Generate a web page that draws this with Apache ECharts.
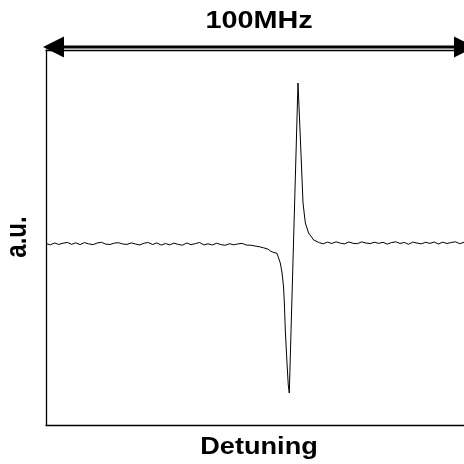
<!DOCTYPE html>
<html>
<head>
<meta charset="utf-8">
<script src="https://cdn.jsdelivr.net/npm/echarts@6/dist/echarts.min.js"></script>
<style>
  html, body { margin: 0; padding: 0; background: #fff; }
  #chart { width: 464px; height: 464px; }
</style>
</head>
<body>
<div id="chart"></div>
<script>
// detuning in MHz, signal in arbitrary units
const detuning = [
  -50, -49, -48, -47, -46, -45, -44, -43, -42, -41,
  -40, -39, -38, -37, -36, -35, -34, -33, -32, -31,
  -30, -29, -28, -27, -26, -25, -24, -23, -22, -21,
  -20, -19, -18, -17, -16, -15, -14, -13, -12, -11,
  -10, -9, -8, -7, -6, -5, -4, -3, -2, -1,
  0, 1, 2,
  2.6, 3.4, 4.15, 4.93, 5.35, 5.7, 5.92, 6.1, 6.5, 6.8, 7.04, 9.08,
  9.62, 10.26, 10.8, 11.57, 12.75, 14.08,
  15, 16, 17, 18, 19, 20, 21, 22, 23, 24,
  25, 26, 27, 28, 29, 30, 31, 32, 33, 34,
  35, 36, 37, 38, 39, 40, 41, 42, 43, 44,
  45, 46, 47, 48, 49, 50
]
const signal = [
  181.4, 180.2, 182.0, 180.6, 181.8, 182.6, 180.7, 182.2, 180.4, 182.4,
  181.2, 180.3, 182.0, 182.7, 180.9, 180.5, 181.9, 182.3, 181.0, 180.6,
  182.1, 181.0, 180.1, 181.8, 182.5,
  180.5, 182.1, 179.9, 181.5, 180.2, 181.9, 180.6, 179.8, 182.0, 180.3,
  181.4, 182.5, 180.1, 181.2, 180.0, 181.8, 180.4, 179.7, 181.3, 180.2,
  181.1, 181.6, 179.9,
  179.8, 179.0, 178.3, 177.2, 176.0,
  174, 172.5, 171.7, 162, 152, 138, 118, 95, 62, 40, 32, 342,
  288, 222, 202, 192, 185, 182.3,
  181.2, 182.9, 181.5, 183.2, 181.8, 181.1, 183.0, 181.7, 181.3, 183.1,
  182.0, 181.4, 182.8, 181.6, 182.7, 180.9, 182.4, 183.2, 181.5, 182.6,
  180.7, 182.9, 181.9, 181.2, 182.7, 181.6, 183.0, 181.0, 182.8, 181.5,
  182.5, 183.2, 181.3, 182.7, 181.6, 182.9
]
const spanLabel = '100MHz'
const xLabel = 'Detuning'
const yLabel = 'a.u.'

const points = detuning.map((d, i) => [d, signal[i]])
const labelFont = 'bold 24px "Liberation Sans", Arial, sans-serif'
const frame = { show: true, onZero: false, lineStyle: { color: '#000', width: 1.3 } }
const bare = {
  axisTick: { show: false },
  axisLabel: { show: false },
  splitLine: { show: false }
}

const chart = echarts.init(document.getElementById('chart'))
chart.setOption({
  animation: false,
  backgroundColor: '#fff',
  grid: { left: 46, top: 50, right: 0, bottom: 39 },
  // the plot runs off the right edge of the picture, so only three sides show
  xAxis: [
    Object.assign({ type: 'value', min: -50, max: 48, position: 'bottom', axisLine: frame }, bare),
    Object.assign({ type: 'value', min: -50, max: 48, position: 'top', axisLine: frame }, bare)
  ],
  yAxis: Object.assign({ type: 'value', min: 0, max: 375, position: 'left', axisLine: frame }, bare),
  series: [
    {
      type: 'line',
      data: points,
      showSymbol: false,
      lineStyle: { color: '#000', width: 1 }
    }
  ],
  graphic: [
    // double headed arrow over the plot
    { type: 'line', shape: { x1: 60, y1: 47, x2: 458, y2: 47 }, style: { stroke: '#000', lineWidth: 3 } },
    { type: 'polygon', shape: { points: [[43, 47], [64, 36.5], [64, 57.5]] }, style: { fill: '#000' } },
    { type: 'polygon', shape: { points: [[475, 47], [454, 36.5], [454, 57.5]] }, style: { fill: '#000' } },
    {
      type: 'text', x: 259, y: 21, scaleX: 1.2,
      style: { text: spanLabel, font: labelFont, fill: '#000', align: 'center', verticalAlign: 'middle' }
    },
    {
      type: 'text', x: 259, y: 448, scaleX: 1.18,
      style: { text: xLabel, font: 'bold 23px "Liberation Sans", Arial, sans-serif', fill: '#000', align: 'center', verticalAlign: 'middle' }
    },
    {
      type: 'text', x: 18, y: 237, rotation: Math.PI / 2, scaleY: 1.2,
      style: { text: yLabel, font: labelFont, fill: '#000', align: 'center', verticalAlign: 'middle' }
    }
  ]
})
</script>
</body>
</html>
